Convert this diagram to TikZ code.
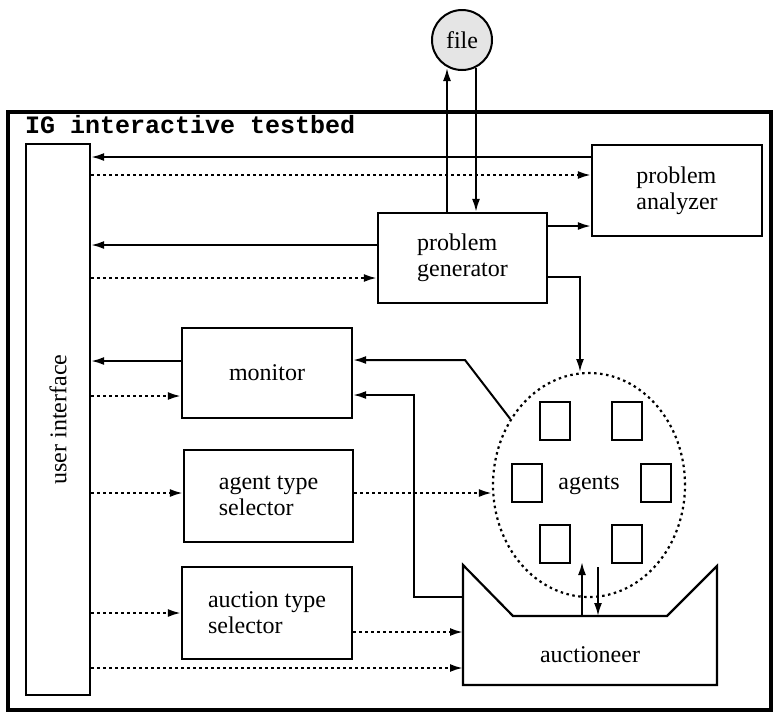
\documentclass[tikz,border=0pt]{standalone}
\usepackage{fontspec}
\setmainfont{Liberation Serif}
\newfontfamily\titlefont{Liberation Mono}
\usetikzlibrary{arrows.meta,shapes.geometric}

\tikzset{
  block/.style={draw, line width=2.2pt, minimum width=170pt, minimum height=90pt, align=left},
  agentbox/.style={draw, line width=2pt, minimum width=30pt, minimum height=38pt},
  flow/.style={line width=2pt, -{Latex[length=13pt,width=8pt]}},
  ctrl/.style={flow, dash pattern=on 2.5pt off 3.5pt, line width=2.2pt},
}

\begin{document}
\begin{tikzpicture}[x=1pt, y=-1pt, every node/.style={inner sep=1pt, font=\fontsize{24}{26}\selectfont}]
  \useasboundingbox (0,0) rectangle (779,713);
  \draw[line width=3.5pt] (8,112) rectangle (771,710);
  \node[anchor=base west, font=\titlefont\bfseries\fontsize{25}{26}\selectfont] (title) at (24,133) {IG interactive testbed};

  \node[draw, line width=2.2pt, rotate=90, minimum width=551pt, minimum height=64pt] (ui) at (58,419.5) {user interface};
  \node[block, minimum height=91pt] (analyzer) at (677,190.5) {problem\\analyzer};
  \node[block, minimum width=169pt] (generator) at (462.5,258) {problem\\generator};
  \node[block] (monitor) at (267,373) {monitor};
  \node[block, minimum width=169pt, minimum height=92pt] (agentsel) at (268.5,496) {agent type\\selector};
  \node[block, minimum height=92pt] (auctsel) at (267,613) {auction type\\selector};
  \node[draw, circle, line width=2pt, fill=gray!20, minimum size=60pt] (file) at (462,40) {file};

  % agents
  \node[draw, ellipse, line width=2.2pt, dash pattern=on 2.5pt off 3.5pt, minimum width=192pt, minimum height=224pt] (agents) at (589,485) {agents};
  \node[agentbox] (a1) at (554.5,420.5) {};
  \node[agentbox] (a2) at (627,420.5) {};
  \node[agentbox] (a3) at (526.5,482.5) {};
  \node[agentbox] (a4) at (655.5,482.5) {};
  \node[agentbox] (a5) at (554.5,543.5) {};
  \node[agentbox] (a6) at (627,543.5) {};

  % auctioneer
  \draw[line width=2.2pt] (463,565) -- (513,616) -- (667,616) -- (717,566) -- (717,685) -- (463,685) -- cycle;
  \node (auc) at (590,655) {auctioneer};
  \coordinate (aucW) at (463,625);
  \coordinate (up0) at (582,616);
  \coordinate (up1) at (582,562);
  \coordinate (dn0) at (598,567);
  \coordinate (dn1) at (598,616);

  % to and from the user interface
  \draw[flow] (analyzer.west |- 0,157) -- (ui.south |- 0,157);
  \draw[ctrl] (ui.south |- 0,175) -- (analyzer.west |- 0,175);
  \draw[flow] (generator.west |- 0,245) -- (ui.south |- 0,245);
  \draw[ctrl] (ui.south |- 0,278) -- (generator.west |- 0,278);
  \draw[flow] (monitor.west |- 0,361) -- (ui.south |- 0,361);
  \draw[ctrl] (ui.south |- 0,396) -- (monitor.west |- 0,396);
  \draw[ctrl] (ui.south |- 0,493) -- (agentsel.west |- 0,493);
  \draw[ctrl] (ui.south |- 0,613) -- (auctsel.west |- 0,613);
  \draw[ctrl] (ui.south |- 0,668) -- (aucW |- 0,668);

  % file
  \draw[flow] (generator.north -| 447,0) -- (447,68);
  \draw[flow] (476,68) -- (generator.north -| 476,0);

  \draw[flow] (generator.east |- 0,226) -- (analyzer.west |- 0,226);
  \draw[flow] (generator.east |- 0,277) -| (580,372);
  \draw[flow] (agents.140) -- (465,360) -- (monitor.east |- 0,360);
  \draw[flow] (aucW |- 0,597) -- (414,597) -- (414,395) -- (monitor.east |- 0,395);
  \draw[ctrl] (agentsel.east |- 0,493) -- (agents.west |- 0,493);
  \draw[ctrl] (auctsel.east |- 0,632) -- (aucW |- 0,632);
  \draw[flow] (up0) -- (up1);
  \draw[flow] (dn0) -- (dn1);
\end{tikzpicture}
\end{document}
